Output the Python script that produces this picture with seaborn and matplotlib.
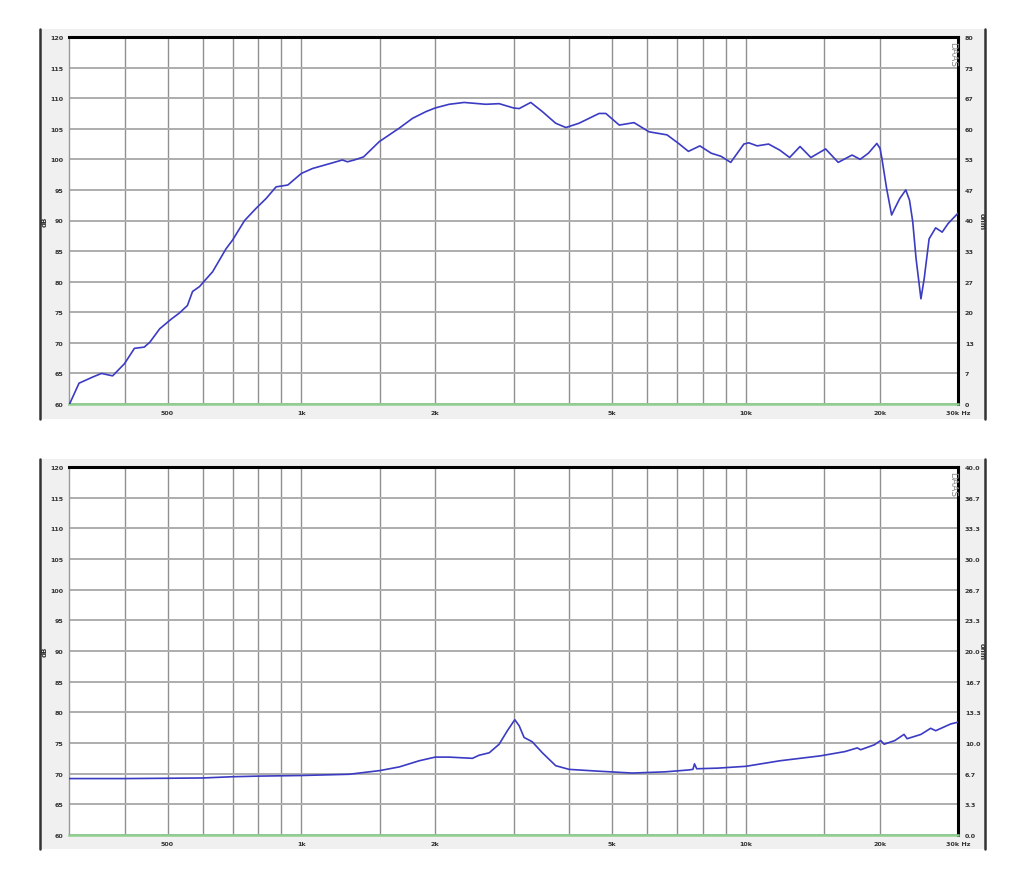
import numpy as np
import pandas as pd
import matplotlib
matplotlib.use("Agg")
import matplotlib.pyplot as plt
from matplotlib.patches import Rectangle
from matplotlib.lines import Line2D
import seaborn as sns

# Frequency response (top panel)
spl_freq = [300, 316, 339, 355, 376, 400, 421, 443, 456, 480, 510, 532, 554, 569,
            590, 603, 631, 677, 700, 745, 791, 833, 877, 932, 1000, 1059, 1120,
            1197, 1236, 1269, 1316, 1380, 1497, 1660, 1778, 1906, 2000, 2150, 2323,
            2598, 2785, 3000, 3090, 3281, 3484, 3733, 3935, 4212, 4674, 4840, 5188,
            5600, 6055, 6645, 7055, 7424, 7877, 8355, 8788, 9243, 9895, 10150,
            10600, 11245, 11920, 12540, 13237, 14000, 15110, 16130, 17330, 18070,
            18860, 19700, 20030, 20220, 20730, 21270, 21630, 22190, 22890, 23340,
            23730, 24140, 24760, 25180, 25830, 26720, 27640, 28500, 30000]
spl_db = [59.8, 63.4, 64.4, 65.0, 64.6, 66.6, 69.1, 69.3, 70.1, 72.3, 73.9, 74.9,
          76.1, 78.4, 79.2, 80.0, 81.6, 85.4, 86.8, 90.0, 92.0, 93.6, 95.5, 95.8,
          97.7, 98.5, 99.0, 99.6, 99.9, 99.6, 99.9, 100.4, 102.9, 105.1, 106.7,
          107.8, 108.4, 109.0, 109.3, 109.0, 109.1, 108.4, 108.3, 109.3, 107.8,
          105.9, 105.2, 105.9, 107.5, 107.5, 105.6, 106.0, 104.5, 104.0, 102.6,
          101.3, 102.2, 101.0, 100.5, 99.5, 102.5, 102.7, 102.2, 102.5, 101.5,
          100.3, 102.1, 100.3, 101.7, 99.5, 100.7, 100.0, 101.0, 102.6, 101.8,
          100.2, 95.2, 90.9, 92.0, 93.6, 95.0, 93.3, 89.8, 83.8, 77.2, 80.5, 87.0,
          88.8, 88.1, 89.5, 91.2]

# Second measurement (bottom panel)
imp_freq = [300, 400, 500, 600, 700, 800, 1000, 1280, 1500, 1660, 1840, 2000, 2150,
            2425, 2510, 2645, 2785, 2906, 3020, 3090, 3169, 3306, 3484, 3733, 4000,
            4674, 5552, 6588, 7424, 7600, 7660, 7750, 8640, 10000, 11920, 14700,
            16700, 17800, 18120, 19440, 20100, 20460, 21630, 22680, 23050, 24760,
            26040, 26720, 28880, 30000]
imp_db = [69.2, 69.2, 69.25, 69.3, 69.5, 69.6, 69.7, 69.9, 70.5, 71.1, 72.1, 72.7,
          72.7, 72.5, 73.0, 73.4, 74.8, 77.0, 78.8, 77.8, 75.9, 75.2, 73.4, 71.3,
          70.7, 70.4, 70.1, 70.3, 70.6, 70.7, 71.6, 70.8, 70.9, 71.2, 72.1, 72.9,
          73.6, 74.2, 73.9, 74.7, 75.4, 74.8, 75.4, 76.4, 75.7, 76.4, 77.4, 77.0,
          78.1, 78.4]

grid_freqs = [400, 500, 600, 700, 800, 900, 1000, 1500, 2000, 3000, 4000, 5000,
              6000, 7000, 8000, 9000, 10000, 15000, 20000]
label_freqs = [500, 1000, 2000, 5000, 10000, 20000]
label_texts = ['500', '1k', '2k', '5k', '10k', '20k']
db_ticks = list(range(60, 125, 5))
ohm_top_labels = ['0', '7', '13', '20', '27', '33', '40', '47', '53', '60', '67', '73', '80']
ohm_bot_labels = ['0.0', '3.3', '6.7', '10.0', '13.3', '16.7', '20.0', '23.3', '26.7',
                  '30.0', '33.3', '36.7', '40.0']

sns.set_style("white")
plt.rcParams['font.family'] = ['DejaVu Sans']

W, H = 1024, 878
fig = plt.figure(figsize=(W / 100, H / 100), dpi=100)
fig.patch.set_facecolor('white')

TICK_FS = 4.6
TICK_COLOR = '#333333'


def px(x0, y0, x1, y1):
    # pixel box -> figure fraction rect
    return [x0 / W, 1 - y1 / H, (x1 - x0) / W, (y1 - y0) / H]


def panel(frame_top, frame_bot, ax_top, ax_bot, freq, db, right_labels):
    # grey window frame behind the plot
    fig.patches.append(Rectangle((40 / W, 1 - frame_bot / H), (985 - 40) / W,
                                 (frame_bot - frame_top) / H, transform=fig.transFigure,
                                 facecolor='#f0f0f0', edgecolor='none', zorder=-5))
    for xb in (40, 985):
        fig.lines.append(Line2D([xb / W, xb / W], [1 - frame_top / H, 1 - frame_bot / H],
                                transform=fig.transFigure, color='#333333', lw=1.8,
                                zorder=-4))

    ax = fig.add_axes(px(69, ax_top, 958, ax_bot))
    ax.set_facecolor('white')
    df = pd.DataFrame({'freq': freq, 'db': db})
    sns.lineplot(data=df, x='freq', y='db', ax=ax, color='#3b3bc4', lw=1.2,
                 estimator=None, sort=False, zorder=5, solid_joinstyle='round')
    ax.set_xscale('log')
    ax.set_xlim(300, 30000)
    ax.set_ylim(60, 120)

    ax.set_xticks(grid_freqs, minor=True)
    ax.set_xticks(label_freqs + [30000])
    ax.set_xticklabels(label_texts + ['30k Hz'])
    ax.xaxis.set_minor_formatter(plt.NullFormatter())
    ax.set_yticks(db_ticks)
    ax.set_yticklabels([str(v) for v in db_ticks])
    ax.grid(True, which='both', axis='x', color='#909090', lw=1.0)
    ax.grid(True, which='major', axis='y', color='#adadad', lw=1.4)
    ax.tick_params(axis='both', which='both', length=0, labelsize=TICK_FS,
                   labelcolor=TICK_COLOR, pad=4)
    for lab in ax.get_xticklabels() + ax.get_yticklabels():
        lab.set_fontweight('bold')
    ax.set_xlabel('')
    ax.set_ylabel('dB', fontsize=5, fontweight='bold', color=TICK_COLOR)
    ax.yaxis.set_label_coords(-0.024, 0.5)

    ax.spines['top'].set_color('black')
    ax.spines['top'].set_linewidth(2.2)
    ax.spines['right'].set_color('black')
    ax.spines['right'].set_linewidth(2.2)
    ax.spines['left'].set_color('#9a9a9a')
    ax.spines['left'].set_linewidth(1.0)
    ax.spines['bottom'].set_color('#8fcf8f')
    ax.spines['bottom'].set_linewidth(1.8)

    ax2 = ax.twinx()
    ax2.set_ylim(60, 120)
    ax2.set_yticks(db_ticks)
    ax2.set_yticklabels(right_labels)
    ax2.tick_params(axis='y', length=0, labelsize=TICK_FS, labelcolor=TICK_COLOR, pad=5)
    for lab in ax2.get_yticklabels():
        lab.set_fontweight('bold')
    for s in ax2.spines.values():
        s.set_visible(False)
    ax2.set_ylabel('ohm', fontsize=5, fontweight='bold', color=TICK_COLOR,
                   rotation=270, va='center')
    ax2.yaxis.set_label_coords(1.027, 0.5)

    ax.text(0.9935, 0.99, 'DAAS', transform=ax.transAxes, rotation=270,
            ha='center', va='top', fontsize=6.5, color='#8a8a8a')
    return ax


panel(30, 420, 38, 405, spl_freq, spl_db, ohm_top_labels)
panel(460, 850, 468, 836, imp_freq, imp_db, ohm_bot_labels)

fig.savefig('out.png', dpi=100)
